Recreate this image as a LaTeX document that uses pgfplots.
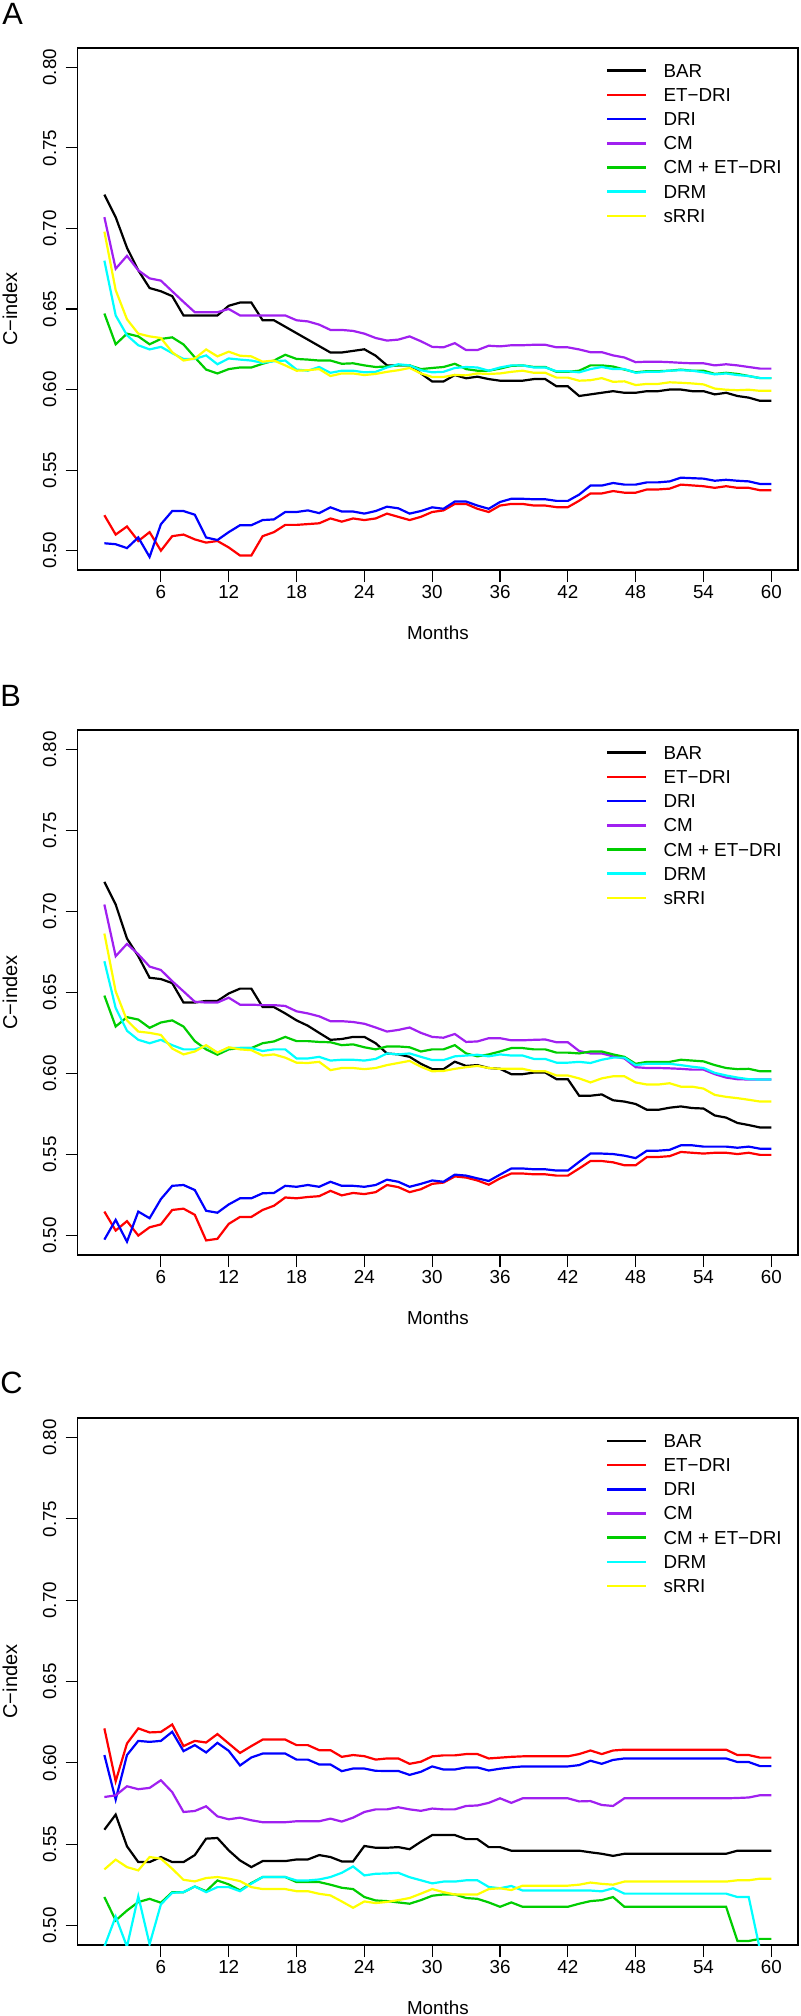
\documentclass[border=0pt]{standalone}
\usepackage{fontspec}
\setmainfont{Liberation Sans}
\usepackage{pgfplots}
\usepackage{pgfplotstable}
\pgfplotsset{compat=1.18}
\definecolor{rblack}{RGB}{0,0,0}
\definecolor{rred}{RGB}{255,0,0}
\definecolor{rblue}{RGB}{0,0,255}
\definecolor{rpurple}{RGB}{160,32,240}
\definecolor{rgreen}{RGB}{0,205,0}
\definecolor{rcyan}{RGB}{0,255,255}
\definecolor{ryellow}{RGB}{255,255,0}

\pgfplotstableread{
m bar etdri dri cm cmet drm srri
1 0.721 0.522 0.5046 0.707 0.6472 0.680 0.698
2 0.707 0.510 0.504 0.675 0.6281 0.646 0.6617
3 0.688 0.515 0.5016 0.683 0.6347 0.6337 0.6436
4 0.674 0.506 0.5082 0.674 0.633 0.6275 0.6347
5 0.663 0.5115 0.4961 0.669 0.6281 0.6249 0.633
6 0.661 0.500 0.5164 0.6676 0.6314 0.6265 0.632
7 0.658 0.509 0.5246 0.661 0.6324 0.6226 0.6232
8 0.646 0.510 0.5246 0.6544 0.628 0.619 0.618
9 0.646 0.507 0.5223 0.648 0.620 0.619 0.6193
10 0.646 0.505 0.5082 0.648 0.6124 0.6212 0.6249
11 0.646 0.506 0.5066 0.648 0.610 0.6157 0.6206
12 0.652 0.502 0.5115 0.650 0.6127 0.6193 0.6235
13 0.654 0.497 0.5158 0.646 0.6137 0.6186 0.621
14 0.654 0.497 0.5158 0.646 0.6137 0.618 0.6206
15 0.643 0.509 0.519 0.646 0.616 0.6166 0.6173
16 0.643 0.5115 0.5194 0.646 0.618 0.6176 0.618
17 0.639 0.516 0.524 0.646 0.6216 0.618 0.615
18 0.635 0.516 0.524 0.643 0.619 0.6124 0.6117
19 0.631 0.5165 0.525 0.6423 0.6186 0.6117 0.612
20 0.627 0.517 0.5233 0.6403 0.618 0.614 0.6127
21 0.623 0.520 0.5269 0.637 0.618 0.6104 0.6084
22 0.623 0.518 0.5243 0.637 0.616 0.6117 0.610
23 0.624 0.520 0.5243 0.6364 0.6163 0.6117 0.610
24 0.625 0.519 0.523 0.6347 0.615 0.6107 0.609
25 0.621 0.520 0.5246 0.632 0.614 0.611 0.6097
26 0.615 0.523 0.5273 0.6304 0.6143 0.6137 0.611
27 0.615 0.521 0.5263 0.631 0.615 0.6157 0.612
28 0.615 0.519 0.523 0.633 0.615 0.615 0.6134
29 0.610 0.521 0.5246 0.630 0.6127 0.612 0.610
30 0.605 0.524 0.5269 0.6265 0.6134 0.6107 0.6078
31 0.605 0.525 0.526 0.6262 0.614 0.611 0.6078
32 0.609 0.529 0.5305 0.6288 0.616 0.6134 0.6091
33 0.607 0.529 0.5305 0.6245 0.6127 0.614 0.6088
34 0.608 0.526 0.528 0.6245 0.6117 0.6137 0.610
35 0.6065 0.524 0.526 0.6272 0.6117 0.6117 0.6097
36 0.6055 0.528 0.5302 0.6268 0.613 0.6137 0.610
37 0.6055 0.529 0.5322 0.6275 0.6147 0.615 0.611
38 0.6055 0.529 0.5322 0.6275 0.615 0.615 0.6117
39 0.6065 0.528 0.5319 0.6278 0.614 0.6137 0.6104
40 0.6065 0.528 0.5319 0.6278 0.614 0.6137 0.6104
41 0.602 0.527 0.5309 0.6262 0.611 0.6114 0.6074
42 0.602 0.527 0.5309 0.6262 0.611 0.6114 0.6074
43 0.596 0.531 0.5348 0.6249 0.6117 0.6107 0.6055
44 0.597 0.5355 0.5404 0.6232 0.615 0.6127 0.6058
45 0.598 0.5355 0.5404 0.6232 0.615 0.614 0.6071
46 0.599 0.537 0.542 0.6212 0.6143 0.6127 0.6048
47 0.598 0.536 0.541 0.6199 0.6124 0.6127 0.6051
48 0.598 0.536 0.541 0.617 0.6107 0.6104 0.6028
49 0.599 0.538 0.5424 0.6173 0.6114 0.611 0.6035
50 0.599 0.538 0.5424 0.6173 0.6114 0.611 0.6035
51 0.600 0.5385 0.543 0.617 0.6117 0.6117 0.6045
52 0.600 0.541 0.5453 0.6166 0.6124 0.612 0.6042
53 0.599 0.5405 0.545 0.6163 0.6117 0.6117 0.6038
54 0.599 0.540 0.5447 0.6163 0.6117 0.6107 0.6032
55 0.597 0.539 0.5434 0.615 0.6097 0.6094 0.6006
56 0.598 0.540 0.544 0.6157 0.6104 0.610 0.5999
57 0.596 0.539 0.5434 0.615 0.6097 0.609 0.5996
58 0.595 0.539 0.543 0.614 0.6084 0.6084 0.5999
59 0.593 0.5375 0.5414 0.613 0.6071 0.6071 0.5992
60 0.593 0.5375 0.5414 0.613 0.6071 0.6071 0.5992
}\tabA

\pgfplotstableread{
m bar etdri dri cm cmet drm srri
1 0.7183 0.5148 0.4975 0.7043 0.6481 0.6693 0.6864
2 0.7043 0.5031 0.5097 0.6724 0.629 0.6404 0.6507
3 0.6833 0.5089 0.4962 0.680 0.6348 0.6264 0.6328
4 0.6724 0.500 0.5148 0.6736 0.6333 0.6208 0.6259
5 0.6591 0.5051 0.5107 0.666 0.6282 0.6187 0.6251
6 0.6583 0.5069 0.5225 0.6639 0.6315 0.6208 0.6238
7 0.6558 0.5158 0.5307 0.657 0.6328 0.6175 0.6154
8 0.6438 0.5166 0.5312 0.6507 0.629 0.6149 0.6118
9 0.6438 0.5128 0.5281 0.6443 0.620 0.6149 0.6136
10 0.6448 0.497 0.5153 0.6438 0.6149 0.617 0.6175
11 0.6448 0.498 0.5141 0.6438 0.6116 0.6129 0.6129
12 0.6494 0.5072 0.5192 0.6468 0.6149 0.6157 0.6162
13 0.6524 0.5115 0.523 0.6425 0.6157 0.6157 0.6149
14 0.6524 0.5115 0.523 0.6425 0.6157 0.6157 0.6144
15 0.641 0.5158 0.5261 0.6422 0.6187 0.6139 0.6111
16 0.641 0.5184 0.5263 0.6422 0.6198 0.6149 0.6118
17 0.6371 0.5235 0.5307 0.6417 0.6226 0.6149 0.6098
18 0.6328 0.523 0.5301 0.6384 0.620 0.6093 0.6067
19 0.6295 0.5238 0.5312 0.6371 0.620 0.6093 0.6065
20 0.6251 0.5243 0.5301 0.6353 0.6195 0.6103 0.6072
21 0.6208 0.5276 0.5332 0.6323 0.6193 0.608 0.6021
22 0.6213 0.5248 0.5307 0.6323 0.6175 0.6085 0.6034
23 0.6226 0.5263 0.5307 0.6318 0.618 0.6085 0.6034
24 0.6226 0.5256 0.5301 0.6307 0.6162 0.608 0.6027
25 0.6187 0.5268 0.5312 0.6284 0.6149 0.609 0.6034
26 0.6124 0.5312 0.5345 0.6259 0.6167 0.6124 0.6052
27 0.6118 0.5299 0.5332 0.6269 0.6167 0.6118 0.6065
28 0.6103 0.5268 0.5301 0.6284 0.6162 0.6124 0.6078
29 0.606 0.5286 0.5319 0.6251 0.6136 0.6103 0.6042
30 0.6027 0.5319 0.534 0.6226 0.6149 0.6083 0.6014
31 0.6027 0.5327 0.5332 0.6221 0.6149 0.6083 0.6016
32 0.6073 0.5365 0.5376 0.6244 0.6175 0.6106 0.6029
33 0.6047 0.5358 0.537 0.6195 0.6124 0.6111 0.6039
34 0.6052 0.534 0.5353 0.6198 0.6106 0.6116 0.6047
35 0.6034 0.5314 0.5337 0.6218 0.6118 0.6106 0.6034
36 0.6029 0.5353 0.5376 0.6218 0.6136 0.6118 0.6029
37 0.5996 0.5383 0.5414 0.6205 0.6157 0.6111 0.6029
38 0.5996 0.5383 0.5414 0.6205 0.6157 0.6111 0.6029
39 0.6006 0.5378 0.5409 0.6208 0.6149 0.609 0.6014
40 0.6006 0.5378 0.5409 0.621 0.6149 0.609 0.6014
41 0.5965 0.537 0.5401 0.6193 0.6129 0.6067 0.5988
42 0.5965 0.537 0.5401 0.6193 0.6129 0.6067 0.5988
43 0.5863 0.5414 0.5455 0.6139 0.6124 0.6072 0.597
44 0.5863 0.546 0.5506 0.6124 0.6136 0.6065 0.5945
45 0.5871 0.546 0.5506 0.6124 0.6136 0.6085 0.597
46 0.5835 0.5452 0.5503 0.6106 0.6118 0.6098 0.5983
47 0.5827 0.5434 0.5493 0.6093 0.6103 0.6098 0.5983
48 0.5812 0.5434 0.5478 0.6039 0.606 0.6052 0.5945
49 0.5776 0.5485 0.5524 0.6034 0.6072 0.606 0.5932
50 0.5776 0.5485 0.5524 0.6034 0.6072 0.606 0.5932
51 0.5789 0.549 0.5529 0.6032 0.6072 0.606 0.594
52 0.5797 0.5516 0.5557 0.6029 0.6085 0.6052 0.5919
53 0.5787 0.5511 0.5557 0.6024 0.608 0.6042 0.5919
54 0.5784 0.5506 0.5549 0.6024 0.6075 0.6034 0.5907
55 0.5741 0.5511 0.5549 0.5996 0.6052 0.6004 0.5868
56 0.5728 0.5511 0.5549 0.5975 0.6034 0.5988 0.5856
57 0.5695 0.5503 0.5542 0.5965 0.6027 0.5975 0.5848
58 0.5682 0.5511 0.5549 0.5963 0.6029 0.5965 0.5838
59 0.5667 0.5498 0.5536 0.5963 0.6014 0.5963 0.5827
60 0.5667 0.5498 0.5536 0.5963 0.6014 0.5963 0.5827
}\tabB

\pgfplotstableread{
m bar etdri dri cm cmet drm srri
1 0.5589 0.6212 0.6048 0.579 0.5175 0.487 0.5345
2 0.5682 0.5887 0.5774 0.580 0.5031 0.5055 0.5405
3 0.5487 0.6119 0.6048 0.5856 0.5092 0.487 0.5359
4 0.539 0.6212 0.6135 0.5838 0.5144 0.518 0.5339
5 0.539 0.6187 0.6129 0.5846 0.5164 0.4885 0.5421
6 0.5421 0.619 0.6135 0.5893 0.514 0.513 0.5411
7 0.539 0.6236 0.6191 0.582 0.5205 0.5201 0.5349
8 0.539 0.6103 0.6072 0.5698 0.5205 0.5205 0.5281
9 0.5433 0.6135 0.6109 0.5704 0.524 0.524 0.5271
10 0.5534 0.6125 0.6064 0.5733 0.5211 0.5205 0.5292
11 0.5538 0.6177 0.6123 0.5671 0.5277 0.5236 0.5298
12 0.5462 0.6119 0.6074 0.5653 0.5253 0.5236 0.5288
13 0.540 0.6061 0.5984 0.5663 0.5216 0.5211 0.5273
14 0.5359 0.6103 0.6033 0.5647 0.5261 0.5257 0.5236
15 0.5396 0.6143 0.6057 0.5635 0.5298 0.5298 0.5224
16 0.5396 0.6143 0.6057 0.5635 0.5298 0.5298 0.5224
17 0.5396 0.6143 0.6057 0.5635 0.5298 0.5298 0.5224
18 0.5406 0.6109 0.602 0.5641 0.5267 0.5277 0.5211
19 0.5406 0.6109 0.602 0.5641 0.5267 0.5277 0.5211
20 0.5433 0.6078 0.599 0.5641 0.5267 0.5283 0.5195
21 0.5421 0.6078 0.599 0.5657 0.5251 0.5298 0.5185
22 0.5394 0.6037 0.5949 0.5639 0.5232 0.5324 0.5148
23 0.5394 0.6048 0.5965 0.5663 0.5224 0.5363 0.5109
24 0.5489 0.6041 0.5965 0.5698 0.5175 0.5308 0.5148
25 0.5478 0.602 0.5951 0.5714 0.5154 0.5318 0.5138
26 0.5478 0.6027 0.595 0.5714 0.515 0.532 0.5145
27 0.5482 0.6027 0.595 0.5727 0.5142 0.5324 0.5156
28 0.5469 0.5994 0.5926 0.5714 0.5134 0.5297 0.5169
29 0.5515 0.6007 0.5945 0.5705 0.5156 0.5278 0.5196
30 0.5556 0.604 0.5978 0.5719 0.5183 0.5259 0.5224
31 0.5556 0.6046 0.5959 0.5714 0.5191 0.527 0.5205
32 0.5556 0.6046 0.5959 0.5714 0.5191 0.527 0.5191
33 0.5531 0.6054 0.5972 0.5735 0.5169 0.5278 0.5191
34 0.5531 0.6054 0.5972 0.5738 0.5164 0.5278 0.5191
35 0.5482 0.6027 0.5953 0.5754 0.5142 0.5237 0.5224
36 0.5482 0.6032 0.5964 0.5782 0.5115 0.5229 0.5229
37 0.546 0.6037 0.5972 0.5754 0.5142 0.5243 0.5218
38 0.546 0.604 0.5978 0.5782 0.5115 0.5215 0.5245
39 0.546 0.604 0.5978 0.5782 0.5115 0.5215 0.5245
40 0.546 0.604 0.5978 0.5782 0.5115 0.5215 0.5245
41 0.546 0.604 0.5978 0.5782 0.5115 0.5215 0.5245
42 0.546 0.604 0.5978 0.5782 0.5115 0.5215 0.5245
43 0.546 0.6054 0.5986 0.5763 0.5134 0.5215 0.5251
44 0.545 0.6076 0.6013 0.5765 0.515 0.5215 0.5264
45 0.5441 0.6054 0.5994 0.5741 0.5156 0.5210 0.5256
46 0.5428 0.6076 0.6018 0.5735 0.5175 0.5229 0.5251
47 0.5441 0.6081 0.6027 0.5782 0.5115 0.5196 0.5270
48 0.5441 0.6081 0.6027 0.5782 0.5115 0.5196 0.5270
49 0.5441 0.6081 0.6027 0.5782 0.5115 0.5196 0.5270
50 0.5441 0.6081 0.6027 0.5782 0.5115 0.5196 0.5270
51 0.5441 0.6081 0.6027 0.5782 0.5115 0.5196 0.5270
52 0.5441 0.6081 0.6027 0.5782 0.5115 0.5196 0.5270
53 0.5441 0.6081 0.6027 0.5782 0.5115 0.5196 0.5270
54 0.5441 0.6081 0.6027 0.5782 0.5115 0.5196 0.5270
55 0.5441 0.6081 0.6027 0.5782 0.5115 0.5196 0.5270
56 0.5441 0.6081 0.6027 0.5782 0.5115 0.5196 0.5270
57 0.546 0.6048 0.6005 0.5784 0.4905 0.5175 0.5278
58 0.546 0.6048 0.6005 0.5787 0.4905 0.5175 0.5278
59 0.546 0.6032 0.598 0.5801 0.4918 0.485 0.5288
60 0.546 0.6032 0.598 0.5801 0.4918 0.478 0.5288
}\tabC

\pgfplotsset{
  panel/.style={
    scale only axis, width=360.15pt,
    xmin=-1.36, xmax=62.36, ymin=0.488, ymax=0.812,
    xtick={6,12,...,60},
    ytick={0.5,0.55,0.6,0.65,0.7,0.75,0.8},
    tick pos=left, tick align=outside, major tick length=6pt,
    axis line style={line width=0.6pt},
    every tick/.style={black, line width=0.6pt},
    /pgf/number format/assume math mode=true,
    tick label style={font=\fontsize{9.4}{11}\selectfont},
    label style={font=\fontsize{9.4}{11}\selectfont},
    yticklabel style={rotate=90, anchor=south, inner sep=0pt,
      /pgf/number format/fixed, /pgf/number format/fixed zerofill,
      /pgf/number format/precision=2},
    yticklabel shift=4.5pt,
    xticklabel style={anchor=north, inner sep=0pt},
    xticklabel shift=1.5pt,
    every axis y label/.style={at={(rel axis cs:-0.094,0.5)}, rotate=90, anchor=center},
    ylabel={C−index},
    xlabel={Months},
    no markers,
    legend cell align=left,
    legend style={at={(rel axis cs:0.7334,0.971)}, anchor=north west,
      draw=none, fill=none, inner sep=0pt, outer sep=0pt,
      row sep=4.6pt, column sep=8pt,
      font=\fontsize{9.4}{11}\selectfont,
      nodes={inner sep=0pt, text height=7pt, text depth=0.5pt}},
    legend image code/.code={\draw[##1, line width=1.3pt] (0pt,0pt) -- (19.5pt,0pt);},
    every axis plot/.append style={line width=1.1pt},
  }
}

\newcommand{\allplots}[1]{%
  \addplot[rblack] table[x=m, y=bar] {#1};
  \addplot[rred] table[x=m, y=etdri] {#1};
  \addplot[rblue] table[x=m, y=dri] {#1};
  \addplot[rpurple] table[x=m, y=cm] {#1};
  \addplot[rgreen] table[x=m, y=cmet] {#1};
  \addplot[rcyan] table[x=m, y=drm] {#1};
  \addplot[ryellow] table[x=m, y=srri] {#1};
  \legend{BAR, ET−DRI, DRI, CM, CM + ET−DRI, DRM, sRRI}
}

\begin{document}
\begin{tikzpicture}
\path[use as bounding box] (0pt,0pt) rectangle (400pt,-1008pt);
\node[anchor=west, inner sep=0pt, font=\fontsize{15.4}{18}\selectfont] at (1pt,-7pt) {A};
\node[anchor=west, inner sep=0pt, font=\fontsize{15.4}{18}\selectfont] at (0pt,-347.75pt) {B};
\node[anchor=west, inner sep=0pt, font=\fontsize{15.4}{18}\selectfont] at (0pt,-691.5pt) {C};

\begin{axis}[panel, at={(38.85pt,-24pt)}, anchor=north west, height=261pt,
  xlabel style={at={(rel axis cs:0.5,-0.1207)}, anchor=center}]
\allplots{\tabA}
\end{axis}

\begin{axis}[panel, at={(38.85pt,-365pt)}, anchor=north west, height=262.5pt,
  xlabel style={at={(rel axis cs:0.5,-0.12)}, anchor=center}]
\allplots{\tabB}
\end{axis}

\begin{axis}[panel, at={(38.85pt,-709pt)}, anchor=north west, height=263.5pt,
  xlabel style={at={(rel axis cs:0.5,-0.1195)}, anchor=center}]
\allplots{\tabC}
\end{axis}
\end{tikzpicture}
\end{document}
